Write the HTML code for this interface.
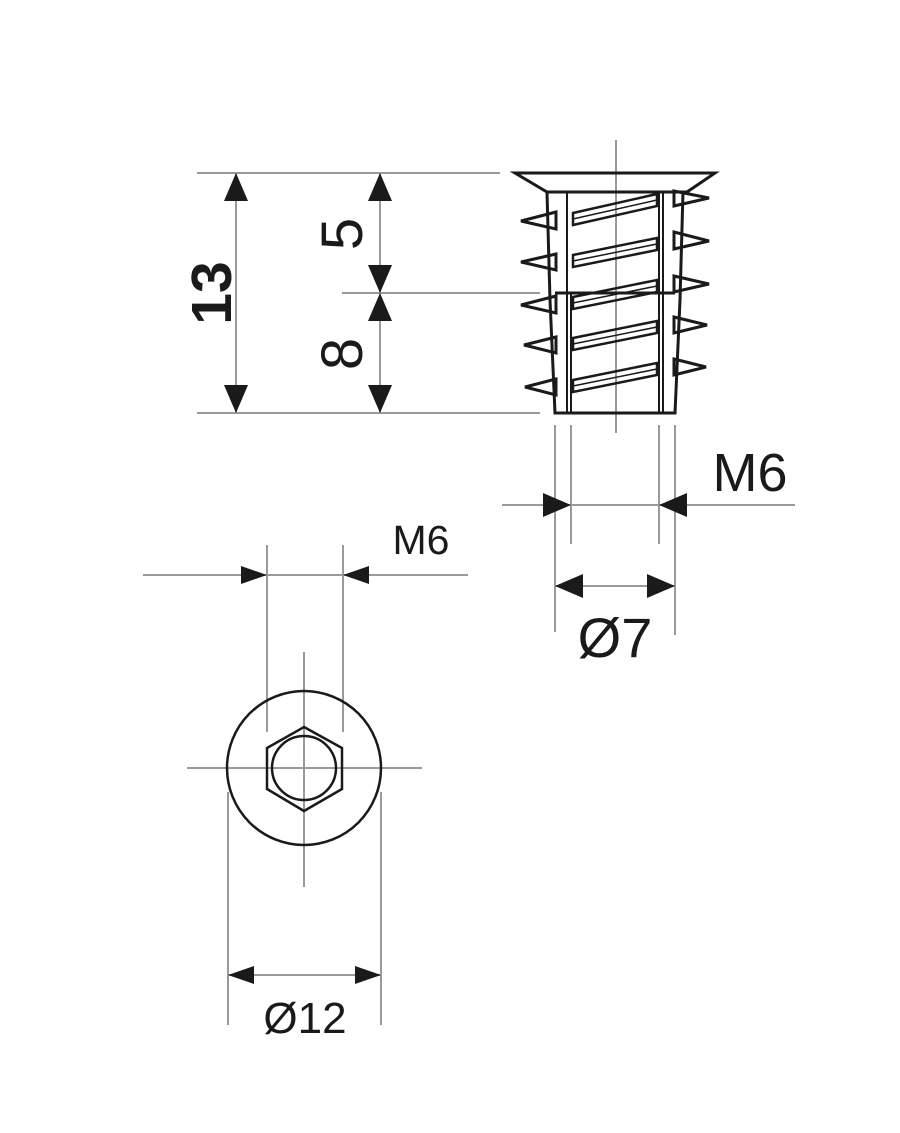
<!DOCTYPE html>
<html><head><meta charset="utf-8"><style>html,body{margin:0;padding:0;background:#fff}svg{display:block}</style></head>
<body>
<svg width="900" height="1133" viewBox="0 0 900 1133" xmlns="http://www.w3.org/2000/svg">
<g stroke="#9a9a9a" stroke-width="2" fill="none">
<line x1="197" y1="173" x2="500" y2="173"/>
<line x1="197" y1="413" x2="540" y2="413"/>
<line x1="342" y1="293" x2="540" y2="293"/>
<line x1="236" y1="173" x2="236" y2="413"/>
<line x1="380" y1="173" x2="380" y2="413"/>
<line x1="616" y1="140" x2="616" y2="433"/>
<line x1="555" y1="425" x2="555" y2="632"/>
<line x1="571" y1="425" x2="571" y2="544"/>
<line x1="659" y1="425" x2="659" y2="544"/>
<line x1="675" y1="425" x2="675" y2="635"/>
<line x1="502" y1="505" x2="795" y2="505"/>
<line x1="555" y1="586" x2="675" y2="586"/>
<line x1="143" y1="575" x2="468" y2="575"/>
<line x1="267" y1="545" x2="267" y2="732"/>
<line x1="343" y1="545" x2="343" y2="732"/>
<line x1="187" y1="768" x2="422" y2="768"/>
<line x1="304" y1="652" x2="304" y2="887"/>
<line x1="228" y1="792" x2="228" y2="1025"/>
<line x1="381" y1="792" x2="381" y2="1025"/>
<line x1="228" y1="975" x2="381" y2="975"/>
</g>
<g fill="#1a1a1a">
<polygon points="236,173 224,201 248,201"/>
<polygon points="236,413 224,385 248,385"/>
<polygon points="380,173 368,201 392,201"/>
<polygon points="380,293 368,265 392,265"/>
<polygon points="380,293 368,321 392,321"/>
<polygon points="380,413 368,385 392,385"/>
<polygon points="571,505 543,493 543,517"/>
<polygon points="659,505 687,493 687,517"/>
<polygon points="555,586 583,574 583,598"/>
<polygon points="675,586 647,574 647,598"/>
<polygon points="267,575 241,566 241,584"/>
<polygon points="343,575 369,566 369,584"/>
<polygon points="228,975 254,966 254,984"/>
<polygon points="381,975 355,966 355,984"/>
</g>
<g stroke="#1a1a1a" stroke-width="3" fill="none" stroke-linejoin="miter">
<polygon points="515,173 715,173 687,192 547,192"/>
<polyline points="547,192 550,300 555,413 675,413 680,300 683,192"/>
<line x1="555" y1="293" x2="675" y2="293"/>
<g stroke-width="2">
<line x1="567" y1="192" x2="567" y2="293"/>
<line x1="571" y1="293" x2="571" y2="413"/>
<line x1="567" y1="293" x2="567" y2="413"/>
<line x1="663" y1="192" x2="663" y2="413"/>
<line x1="659" y1="192" x2="659" y2="413"/>
</g>
<polygon points="556,212 521,221 556,229"/>
<polygon points="556,254 521,262 556,270"/>
<polygon points="556,296 521,305 556,313"/>
<polygon points="556,337 524,345 556,353"/>
<polygon points="556,379 525,387 556,395"/>
<polygon points="674,191 709,198 674,206"/>
<polygon points="674,232 709,241 674,249"/>
<polygon points="674,276 709,284 674,292"/>
<polygon points="674,317 707,325 674,333"/>
<polygon points="674,359 706,367 674,375"/>
<g stroke-width="2.5">
<polygon points="573,213 657,194 657,206 573,225"/>
<polygon points="573,255 657,238 657,250 573,267"/>
<polygon points="573,297 657,280 657,292 573,309"/>
<polygon points="573,338 657,321 657,333 573,350"/>
<polygon points="573,380 657,363 657,375 573,392"/>
</g>
<g stroke-width="1.5">
<line x1="573" y1="219" x2="657" y2="200"/>
<line x1="573" y1="261" x2="657" y2="244"/>
<line x1="573" y1="303" x2="657" y2="286"/>
<line x1="573" y1="344" x2="657" y2="327"/>
<line x1="573" y1="386" x2="657" y2="369"/>
</g>
</g>
<g stroke="#1a1a1a" stroke-width="2.5" fill="none">
<circle cx="304" cy="768" r="77"/>
<polygon points="304,727 342,748 342,789 304,811 267,789 267,748"/>
<circle cx="304" cy="768" r="32"/>
</g>
<g font-family="Liberation Sans, sans-serif" fill="#1a1a1a">
<text x="0" y="0" font-size="57" font-weight="bold" text-anchor="middle" transform="translate(231,293) rotate(-90)">13</text>
<text x="0" y="0" font-size="58" text-anchor="middle" transform="translate(362,234) rotate(-90)">5</text>
<text x="0" y="0" font-size="58" text-anchor="middle" transform="translate(362,354) rotate(-90)">8</text>
<text x="750" y="491" font-size="54" text-anchor="middle">M6</text>
<text x="615" y="657" font-size="56" text-anchor="middle">Ø7</text>
<text x="421" y="554" font-size="41" text-anchor="middle">M6</text>
<text x="305" y="1033" font-size="44" text-anchor="middle">Ø12</text>
</g>
</svg>
</body></html>
